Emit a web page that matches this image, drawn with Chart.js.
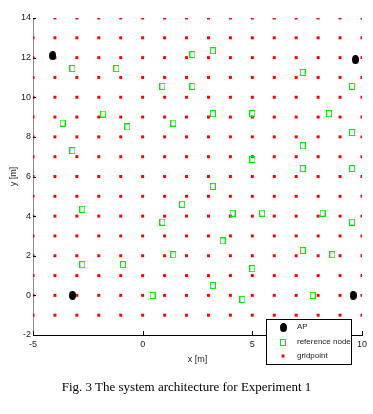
<!DOCTYPE html>
<html>
<head>
<meta charset="utf-8">
<script src="https://cdn.jsdelivr.net/npm/chart.js@4.4.1/dist/chart.umd.min.js"></script>
<style>
  html, body { margin: 0; padding: 0; background: #fff; }
  #wrap { position: relative; width: 373px; height: 414px; }
  #caption {
    position: absolute; left: 0; top: 379px; width: 373px; text-align: center;
    font-family: "Liberation Serif", "Times New Roman", serif; font-size: 13px; color: #000;
  }
</style>
</head>
<body>
<div id="wrap">
  <canvas id="chart" width="373" height="414"></canvas>
  <div id="caption">Fig. 3 The system architecture for Experiment 1</div>
</div>
<script>
// grid lines of the gridpoints
const gridX = [-5, -4, -3, -2, -1, 0, 1, 2, 3, 4, 5, 6, 7, 8, 9, 10];
const gridY = [-1, 0, 1, 2, 3, 4, 5, 6, 7, 8, 9, 10, 11, 12, 13, 14];

// access points
const apX = [-4.1, 9.7, -3.2, 9.6];
const apY = [12.1, 11.9, 0.0, 0.0];

// reference nodes
const refX = [-3.2, -1.2, 0.9, -1.8, -3.65, -0.7, 1.4, -3.2,
              2.27, 3.2, 7.3, 2.27, 9.55, 3.2, 5.0, 8.5, 9.55, 7.3, 5.0, 7.3, 9.55,
              -2.75, 1.8, 0.9, 1.4, -2.75, -0.9, 0.45,
              3.2, 4.1, 5.45, 8.2, 9.55, 3.65, 7.3, 8.65, 5.0, 3.2, 4.55, 7.75];
const refY = [11.45, 11.45, 10.55, 9.15, 8.7, 8.5, 8.7, 7.3,
              12.15, 12.35, 11.25, 10.55, 10.55, 9.17, 9.17, 9.17, 8.22, 7.55, 6.86, 6.4, 6.4,
              4.35, 4.6, 3.7, 2.05, 1.55, 1.55, 0.0,
              5.5, 4.15, 4.15, 4.15, 3.7, 2.75, 2.27, 2.05, 1.35, 0.5, -0.2, 0.0];

// axis ticks
const xTicks = [-5, 0, 5, 10];
const yTicks = [-2, 0, 2, 4, 6, 8, 10, 12, 14];

const toPoints = (xs, ys) => xs.map((x, i) => ({ x: x, y: ys[i] }));
const gridPoints = [];
gridY.forEach(y => gridX.forEach(x => gridPoints.push({ x: x, y: y })));

// marker images
function makeEllipse(w, h, color) {
    const c = document.createElement('canvas');
    c.width = w; c.height = h;
    const g = c.getContext('2d');
    g.fillStyle = color;
    g.beginPath();
    g.ellipse(w / 2, h / 2, w / 2, h / 2, 0, 0, Math.PI * 2);
    g.fill();
    return c;
}
function makeBox(w, h, color) {
    const c = document.createElement('canvas');
    c.width = w; c.height = h;
    const g = c.getContext('2d');
    g.strokeStyle = color;
    g.lineWidth = 1;
    g.strokeRect(0.5, 0.5, w - 1, h - 1);
    return c;
}
const apMarker = makeEllipse(7, 9, '#000');
const refMarker = makeBox(6, 7, '#00ee00');

const FONT = "'Liberation Sans', Arial, sans-serif";

// inward tick marks
const innerTicks = {
    id: 'innerTicks',
    afterDraw(chart) {
        const g = chart.ctx, a = chart.chartArea;
        const sx = chart.scales.x, sy = chart.scales.y;
        g.save();
        g.lineWidth = 1;
        g.strokeStyle = '#000';
        xTicks.forEach(v => {
            const px = Math.round(sx.getPixelForValue(v)) + 0.5;
            g.beginPath(); g.moveTo(px, a.bottom); g.lineTo(px, a.bottom - 4); g.stroke();
        });
        yTicks.forEach(v => {
            const py = Math.round(sy.getPixelForValue(v)) + 0.5;
            g.beginPath(); g.moveTo(a.left, py); g.lineTo(a.left + 3, py); g.stroke();
        });
        g.restore();
    }
};

// boxed legend overlapping the lower right corner
const boxLegend = {
    id: 'boxLegend',
    afterDraw(chart) {
        const g = chart.ctx;
        const bx = 266.5, by = 319.5, bw = 85, bh = 45;
        g.save();
        g.fillStyle = '#fff';
        g.fillRect(bx, by, bw, bh);
        g.strokeStyle = '#000';
        g.lineWidth = 1;
        g.strokeRect(bx, by, bw, bh);
        g.font = '8px ' + FONT;
        g.textBaseline = 'middle';
        const rows = [327, 342, 356];
        chart.data.datasets.forEach((ds, i) => {
            const y = rows[i];
            const mx = 283;
            if (ds.pointStyle instanceof HTMLCanvasElement) {
                g.drawImage(ds.pointStyle, Math.round(mx - ds.pointStyle.width / 2), Math.round(y - ds.pointStyle.height / 2));
            } else {
                g.fillStyle = ds.backgroundColor;
                g.fillRect(mx - 1.5, y - 1.5, 3, 3);
            }
            g.fillStyle = '#222';
            g.fillText(ds.label, 297, y);
        });
        g.restore();
    }
};

new Chart(document.getElementById('chart').getContext('2d'), {
    type: 'scatter',
    data: {
        datasets: [
            {
                label: 'AP',
                data: toPoints(apX, apY),
                pointStyle: apMarker,
                backgroundColor: '#000',
                borderColor: '#000'
            },
            {
                label: 'reference node',
                data: toPoints(refX, refY),
                pointStyle: refMarker,
                backgroundColor: '#00ee00',
                borderColor: '#00ee00'
            },
            {
                label: 'gridpoint',
                data: gridPoints,
                pointStyle: 'rect',
                pointRadius: 2.1,
                borderWidth: 0,
                backgroundColor: '#ff0000',
                borderColor: '#ff0000'
            }
        ]
    },
    options: {
        responsive: false,
        animation: false,
        layout: { padding: { top: 18, right: 11, bottom: 49, left: 0 } },
        plugins: {
            legend: { display: false },
            tooltip: { enabled: false }
        },
        scales: {
            x: {
                type: 'linear',
                min: -5, max: 10,
                afterBuildTicks: s => { s.ticks = xTicks.map(v => ({ value: v })); },
                afterFit: s => { s.height = 30; },
                grid: { display: false, drawTicks: false },
                border: { display: true, color: '#000', width: 1 },
                ticks: { padding: 4, color: '#222', font: { family: FONT, size: 9 } },
                title: { display: true, text: 'x [m]', color: '#222', padding: 0, font: { family: FONT, size: 9 } }
            },
            y: {
                type: 'linear',
                min: -2, max: 14,
                afterBuildTicks: s => { s.ticks = yTicks.map(v => ({ value: v })); },
                afterFit: s => { s.width = 33; },
                grid: { display: false, drawTicks: false },
                border: { display: true, color: '#888', width: 1 },
                ticks: { padding: 2, color: '#222', font: { family: FONT, size: 9 } },
                title: { display: true, text: 'y [m]', color: '#222', padding: 8, font: { family: FONT, size: 9 } }
            }
        }
    },
    plugins: [innerTicks, boxLegend]
});
</script>
</body>
</html>
